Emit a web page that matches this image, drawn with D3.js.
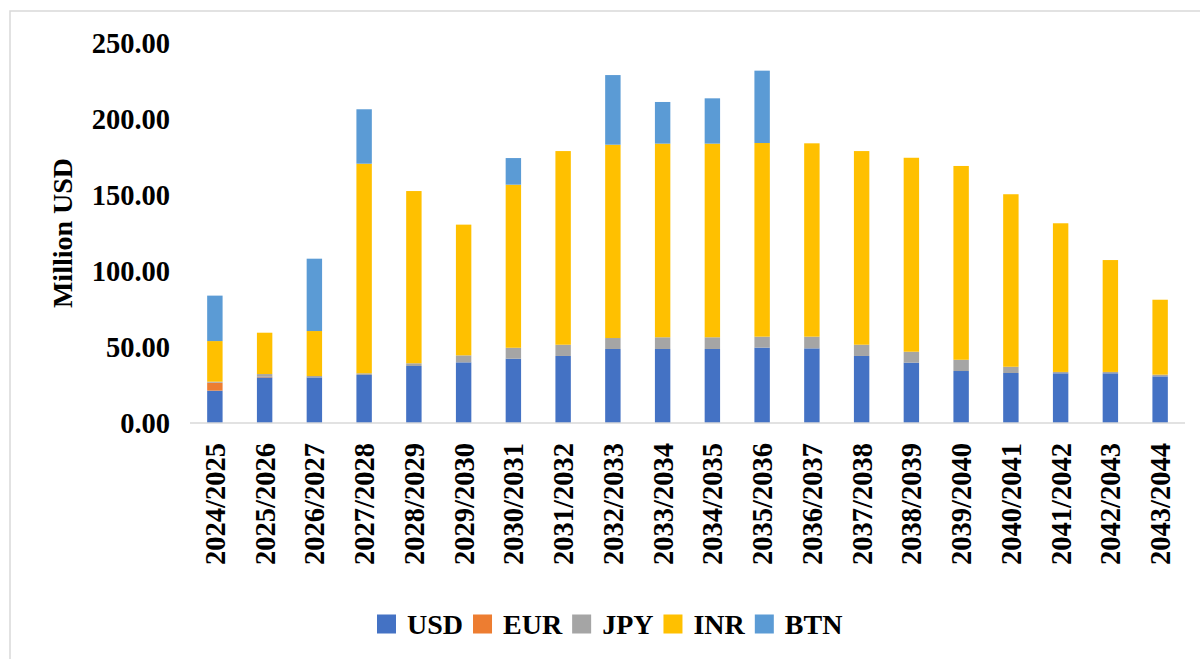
<!DOCTYPE html>
<html>
<head>
<meta charset="utf-8">
<script src="https://cdn.jsdelivr.net/npm/d3@7"></script>
<style>
  body { margin: 0; background: #fff; }
  text { font-family: "Liberation Serif", "Times New Roman", serif; font-weight: bold; fill: #000; }
</style>
</head>
<body>
<svg width="1200" height="659"></svg>
<script>
// fiscal years
var years = ['2024/2025','2025/2026','2026/2027','2027/2028','2028/2029','2029/2030','2030/2031',
  '2031/2032','2032/2033','2033/2034','2034/2035','2035/2036','2036/2037','2037/2038','2038/2039',
  '2039/2040','2040/2041','2041/2042','2042/2043','2043/2044']

// million USD per currency
var usd = [21.3, 30.0, 30.0, 31.6, 37.5, 39.9, 42.3, 44.1, 48.7, 48.7, 48.7, 49.6, 49.1, 44.1, 39.7, 34.2, 32.9, 32.7, 32.7, 30.7]
var eur = [5.2, 0.4, 0, 0, 0, 0, 0, 0, 0, 0, 0, 0, 0, 0, 0, 0, 0, 0, 0, 0]
var jpy = [0.7, 1.8, 0.9, 1.1, 1.8, 4.6, 7.2, 7.4, 7.2, 7.7, 7.7, 7.2, 7.7, 7.4, 7.2, 7.4, 4.1, 0.9, 0.9, 1.1]
var inr = [26.7, 27.2, 29.6, 137.9, 113.3, 86.0, 107.3, 127.4, 127.2, 127.4, 127.4, 127.4, 127.2, 127.4, 127.6, 127.5, 113.5, 97.8, 73.6, 49.3]
var btn = [29.9, 0, 47.6, 35.8, 0, 0, 17.5, 0, 45.8, 27.4, 29.8, 47.6, 0, 0, 0, 0, 0, 0, 0, 0]

var keys = ['USD', 'EUR', 'JPY', 'INR', 'BTN']
var colors = ['#4472C4', '#ED7D31', '#A5A5A5', '#FFC000', '#5B9BD5']
var yTicks = [0, 50, 100, 150, 200, 250]

var data = years.map(function(y, i) {
  return { year: y, USD: usd[i], EUR: eur[i], JPY: jpy[i], INR: inr[i], BTN: btn[i] }
})

var svg = d3.select('svg')

// outer frame
svg.append('rect')
  .attr('x', 10).attr('y', 11).attr('width', 1220).attr('height', 700)
  .attr('fill', 'none').attr('stroke', '#d9d9d9').attr('stroke-width', 1.5)

var plotLeft = 190, plotRight = 1185, plotTop = 43, plotBottom = 423

var x = d3.scaleBand()
  .domain(years)
  .range([plotLeft, plotRight])
  .paddingInner(0.69)
  .paddingOuter(0.345)

var y = d3.scaleLinear()
  .domain([0, 250])
  .range([plotBottom, plotTop])

var color = d3.scaleOrdinal().domain(keys).range(colors)

var stacked = d3.stack().keys(keys)(data)

svg.append('g')
  .selectAll('g')
  .data(stacked).enter().append('g')
  .attr('fill', function(d) { return color(d.key) })
  .selectAll('rect')
  .data(function(d) { return d }).enter().append('rect')
  .attr('x', function(d) { return x(d.data.year) })
  .attr('width', x.bandwidth())
  .attr('y', function(d) { return y(d[1]) })
  .attr('height', function(d) { return y(d[0]) - y(d[1]) })

// baseline
svg.append('line')
  .attr('x1', plotLeft).attr('x2', plotRight)
  .attr('y1', y(0)).attr('y2', y(0))
  .attr('stroke', '#d9d9d9').attr('stroke-width', 1.5)

// Y axis
var yAxis = svg.append('g')
  .attr('transform', 'translate(' + plotLeft + ',0)')
  .call(d3.axisLeft(y).tickValues(yTicks).tickFormat(d3.format('.2f')).tickSize(0).tickPadding(20))
yAxis.select('.domain').remove()
yAxis.selectAll('text')
  .style('font-size', '28.5px')
  .style('font-family', '"Liberation Serif", serif')
  .style('font-weight', 'bold')
  .attr('dy', '0.35em')

// X axis
var xAxis = svg.append('g')
  .attr('transform', 'translate(0,' + plotBottom + ')')
  .call(d3.axisBottom(x).tickSize(0))
xAxis.select('.domain').remove()
xAxis.selectAll('text')
  .style('font-size', '28.5px')
  .style('font-family', '"Liberation Serif", serif')
  .style('font-weight', 'bold')
  .style('text-anchor', 'end')
  .attr('transform', 'rotate(-90)')
  .attr('x', -20)
  .attr('y', 0)
  .attr('dy', '0.35em')

// Y title
svg.append('text')
  .attr('transform', 'translate(62,233) rotate(-90)')
  .attr('text-anchor', 'middle')
  .attr('dy', '0.35em')
  .style('font-size', '28px')
  .text('Million USD')

// legend
var legend = svg.append('g').attr('transform', 'translate(377,624)')
var lx = 0
keys.forEach(function(k, i) {
  legend.append('rect')
    .attr('x', lx).attr('y', -9.5)
    .attr('width', 19).attr('height', 19)
    .attr('fill', colors[i])
  var t = legend.append('text')
    .attr('x', lx + 30).attr('y', 0)
    .attr('dy', '0.35em')
    .style('font-size', '28px')
    .text(k)
  lx += 30 + t.node().getComputedTextLength() + 10
})
</script>
</body>
</html>
